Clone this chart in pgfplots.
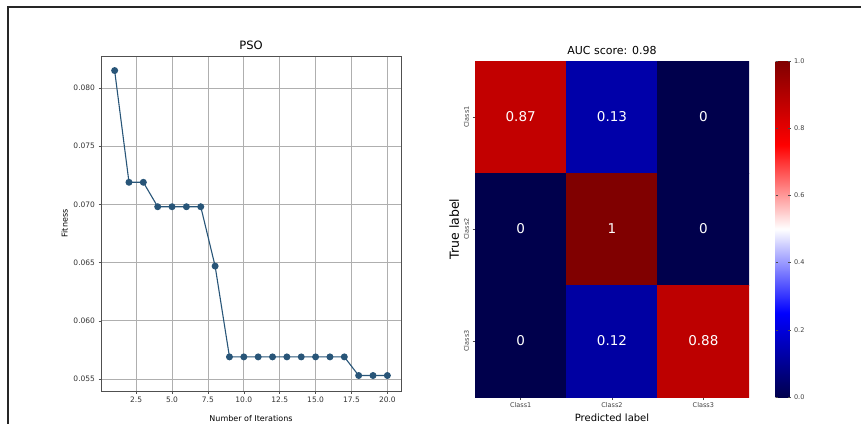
\documentclass[border=0pt]{standalone}
\usepackage{pgfplots}
\pgfplotsset{compat=1.18}
\usepackage{fontspec}
\setmainfont{DejaVu Sans}
\pgfplotsset{/pgf/number format/assume math mode=true}
\definecolor{lineblue}{RGB}{40,85,120}
\definecolor{gridgray}{RGB}{175,175,175}
\definecolor{framegray}{RGB}{80,80,80}
\pgfplotstableread{
x y
1 0.0815
2 0.0719
3 0.0719
4 0.0698
5 0.0698
6 0.0698
7 0.0698
8 0.0647
9 0.0569
10 0.0569
11 0.0569
12 0.0569
13 0.0569
14 0.0569
15 0.0569
16 0.0569
17 0.0569
18 0.0553
19 0.0553
20 0.0553
}\psodata
\pgfplotstableread{
x y c
0 0 0.87
1 0 0.13
2 0 0
0 1 0
1 1 1
2 1 0
0 2 0
1 2 0.12
2 2 0.88
}\cmdata
\pgfplotstableread{
x y lab
0 0 0.87
1 0 0.13
2 0 0
0 1 0
1 1 1
2 1 0
0 2 0
1 2 0.12
2 2 0.88
}\cmlabels
\begin{document}
\begin{tikzpicture}
\useasboundingbox (0,0) rectangle (861pt,423pt);
\clip (0,0) rectangle (861pt,423pt);
\draw[line width=1.5pt, black!85] (8pt,-5pt) -- (8pt,416pt) -- (870pt,416pt);
% Left: PSO convergence
\begin{axis}[
  at={(101pt,32pt)}, anchor=south west,
  scale only axis, width=300pt, height=335pt,
  xmin=0.05, xmax=20.95, ymin=0.05397, ymax=0.08275,
  xtick={2.5,5,7.5,10,12.5,15,17.5,20},
  ytick={0.055,0.060,0.065,0.070,0.075,0.080},
  scaled y ticks=false, scaled x ticks=false,
  xticklabel={\pgfmathprintnumber[fixed,fixed zerofill,precision=1]{\tick}},
  yticklabel={\pgfmathprintnumber[fixed,fixed zerofill,precision=3]{\tick}},
  tick label style={font=\fontsize{7.5}{8}\selectfont, text=black!80},
  tick align=outside, major tick length=2.5pt,
  xtick pos=bottom, ytick pos=left,
  tick style={framegray, line width=0.5pt},
  grid=major, grid style={gridgray, line width=0.7pt},
  axis line style={framegray, line width=0.9pt},
  title={PSO}, title style={font=\fontsize{11.5}{12}\selectfont, yshift=-3pt},
  xlabel={Number of Iterations}, ylabel={Fitness},
  label style={font=\fontsize{8}{9}\selectfont},
  xlabel style={yshift=-6pt},
  ylabel style={yshift=-1pt},
]
\addplot[lineblue, line width=1.1pt, mark=*, mark size=2.9pt, mark options={fill=lineblue, draw=lineblue}] table[x=x,y=y] {\psodata};
\end{axis}
% Right: confusion matrix
\begin{axis}[
  at={(475pt,26pt)}, anchor=south west,
  scale only axis, width=274pt, height=336pt,
  xmin=-0.5, xmax=2.5, ymin=-0.5, ymax=2.5, y dir=reverse,
  colormap={seismic}{rgb=(0,0,0.3) rgb=(0,0,1) rgb=(1,1,1) rgb=(1,0,0) rgb=(0.5,0,0)},
  point meta min=0, point meta max=1,
  axis line style={draw=none},
  xtick={0,1,2}, ytick={0,1,2},
  xticklabels={Class1,Class2,Class3}, yticklabels={Class1,Class2,Class3},
  xtick pos=bottom, ytick pos=left, tick align=outside, major tick length=2.5pt,
  tick style={black!70, line width=0.5pt},
  tick label style={font=\fontsize{6.5}{7}\selectfont, text=black!75},
  yticklabel style={rotate=90, anchor=south},
  title={AUC score: 0.98}, title style={font=\fontsize{11}{12}\selectfont, yshift=-3pt},
  xlabel={Predicted label}, ylabel={True label},
  xlabel style={font=\fontsize{10}{11}\selectfont, yshift=1.5pt},
  ylabel style={font=\fontsize{12.5}{13}\selectfont, yshift=-2pt},
  colorbar,
  colorbar style={
    at={(parent axis.north east)}, anchor=north west, xshift=18pt,
    width=15pt,
    ytick={0,0.2,0.4,0.6,0.8,1},
    yticklabel={\pgfmathprintnumber[fixed,fixed zerofill,precision=1]{\tick}},
    yticklabel style={font=\fontsize{6.5}{7}\selectfont, text=black!75},
    axis line style={draw=none},
    major tick length=2.5pt, tick style={black!70},
  },
]
\addplot[matrix plot*, mesh/cols=3, point meta=explicit] table[x=x,y=y,meta=c] {\cmdata};
\addplot[only marks, mark=none, nodes near coords, point meta=explicit symbolic,
  nodes near coords style={white, anchor=center, font=\fontsize{13.5}{14}\selectfont}]
  table[x=x,y=y,meta=lab] {\cmlabels};
\end{axis}
\end{tikzpicture}
\end{document}
